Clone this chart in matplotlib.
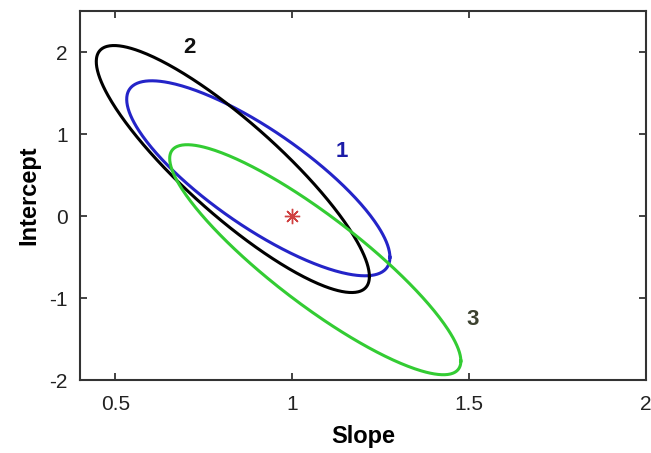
"""Confidence ellipses for slope / intercept estimates."""

import numpy as np
import matplotlib
matplotlib.use("Agg")
import matplotlib.pyplot as plt

plt.rcParams['font.family'] = ['Liberation Sans', 'DejaVu Sans']
plt.rcParams['axes.unicode_minus'] = False

# ellipse parameters
labels = ['1', '2', '3']
centre_x = [0.904, 0.832, 1.065]
centre_y = [0.46, 0.573, -0.533]
half_x = [0.372, 0.386, 0.4115]
half_y = [1.189, 1.506, 1.4025]
rho = [-0.81, -0.87, -0.88]
colors = ['#2424c8', '#000000', '#33cc33']
label_colors = ['#1c1ca8', '#111111', '#3d4230']
label_x = [1.14, 0.71, 1.51]
label_y = [0.79, 2.05, -1.26]

true_slope = [1.0]
true_intercept = [0.0]

fig = plt.figure(figsize=(6.51, 4.53), dpi=100)
ax = fig.add_axes([0.1229, 0.1611, 0.8695, 0.8146])

t = np.linspace(0, 2 * np.pi, 400)
for i in range(len(labels)):
    x = centre_x[i] + half_x[i] * np.cos(t)
    y = centre_y[i] + half_y[i] * (rho[i] * np.cos(t) + np.sqrt(1 - rho[i] ** 2) * np.sin(t))
    ax.plot(x, y, color=colors[i], lw=2.2)
    ax.text(label_x[i], label_y[i], labels[i], color=label_colors[i],
            fontsize=16, fontweight='bold', ha='center', va='center')

ax.plot(true_slope, true_intercept, marker=(8, 2, 0), color='#d04040',
        ms=11, mew=1.0, ls='none')

ax.set_xlim(0.4, 2.0)
ax.set_ylim(-2, 2.5)
ax.set_xticks([0.5, 1, 1.5, 2])
ax.set_xticklabels(['0.5', '1', '1.5', '2'])
ax.set_yticks([-2, -1, 0, 1, 2])
ax.tick_params(direction='in', top=True, right=True, length=5, width=1.2,
               labelsize=15, colors='#222222', pad=9)
ax.tick_params(axis='x', pad=11)
for s in ax.spines.values():
    s.set_linewidth(1.5)
    s.set_color('#333333')

ax.set_xlabel('Slope', fontsize=17, fontweight='bold', labelpad=8)
ax.set_ylabel('Intercept', fontsize=17, fontweight='bold', labelpad=6)

fig.savefig('out.png', dpi=100)
